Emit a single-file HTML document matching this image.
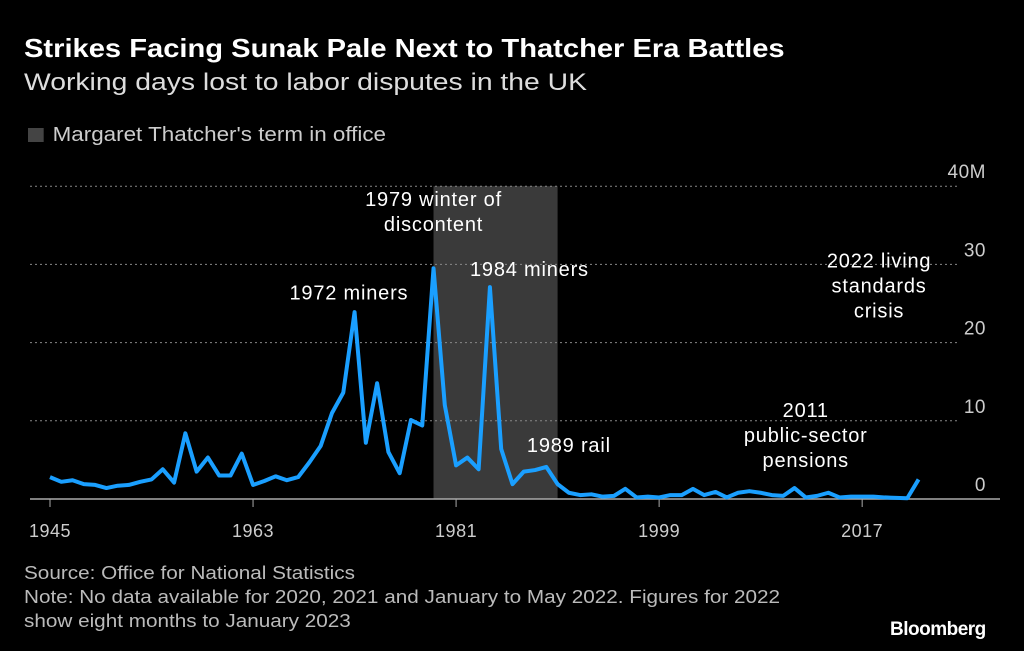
<!DOCTYPE html>
<html><head><meta charset="utf-8"><style>
body{margin:0;background:#000;width:1024px;height:651px;overflow:hidden;font-family:"Liberation Sans",sans-serif;color:#fff}
.t{position:absolute;white-space:nowrap;transform-origin:0 0}
</style></head><body>
<div class="t" style="left:24px;top:33px;font-size:26px;font-weight:bold;transform:scaleX(1.12)">Strikes Facing Sunak Pale Next to Thatcher Era Battles</div>
<div class="t" style="left:24px;top:69px;font-size:24px;color:#ddd;transform:scaleX(1.18)">Working days lost to labor disputes in the UK</div>
<div class="t" style="left:28px;top:124px;font-size:20px;color:#ccc;transform:scaleX(1.12)"><span style="display:inline-block;width:14px;height:14px;background:#444;margin-right:8px;vertical-align:-1px"></span>Margaret Thatcher's term in office</div>
<svg width="1024" height="651" style="position:absolute;left:0;top:0" id="c"></svg>
<div class="t" style="left:24px;top:561px;font-size:18px;color:#bbb;line-height:24px;transform:scaleX(1.15)">Source: Office for National Statistics<br>Note: No data available for 2020, 2021 and January to May 2022. Figures for 2022<br>show eight months to January 2023</div>
<div class="t" style="left:890px;top:619px;font-size:19px;font-weight:bold;letter-spacing:-0.5px">Bloomberg</div>
<script>
const years=[1945,1946,1947,1948,1949,1950,1951,1952,1953,1954,1955,1956,1957,1958,1959,1960,1961,1962,1963,1964,1965,1966,1967,1968,1969,1970,1971,1972,1973,1974,1975,1976,1977,1978,1979,1980,1981,1982,1983,1984,1985,1986,1987,1988,1989,1990,1991,1992,1993,1994,1995,1996,1997,1998,1999,2000,2001,2002,2003,2004,2005,2006,2007,2008,2009,2010,2011,2012,2013,2014,2015,2016,2017,2018,2019,2021,2022];
const values=[2.8,2.2,2.4,1.9,1.8,1.4,1.7,1.8,2.2,2.5,3.8,2.1,8.4,3.5,5.3,3.0,3.0,5.8,1.8,2.3,2.9,2.4,2.8,4.7,6.8,11.0,13.6,23.9,7.2,14.8,6.0,3.3,10.1,9.4,29.5,12.0,4.3,5.3,3.8,27.1,6.4,1.9,3.5,3.7,4.1,1.9,0.8,0.5,0.6,0.3,0.4,1.3,0.2,0.3,0.2,0.5,0.5,1.3,0.5,0.9,0.2,0.8,1.0,0.8,0.5,0.4,1.4,0.2,0.4,0.8,0.2,0.3,0.3,0.3,0.2,0.1,2.5];
const yTicks=[0,10,20,30,40];
const yTickLabels=["0","10","20","30","40M"];
const xTicks=[1945,1963,1981,1999,2017];
const thatcher=[1979,1990];
const annotations=[{t:["1979 winter of","discontent"],y:1979,v:37.5},{t:["1972 miners"],y:1971.5,v:25.5},{t:["1984 miners"],y:1987.5,v:28.5},{t:["1989 rail"],y:1991,v:6},{t:["2011","public-sector","pensions"],y:2012,v:10.5},{t:["2022 living","standards","crisis"],y:2018.5,v:29.6}];
const X=y=>50+(y-1945)*11.28, Y=v=>499-v*7.82;
const s=document.getElementById('c'),NS='http://www.w3.org/2000/svg';
function mk(tag,a,p){const e=document.createElementNS(NS,tag);for(const k in a)e.setAttribute(k,a[k]);(p||s).appendChild(e);return e;}
const sh=mk('rect',{x:X(thatcher[0]),y:Y(40),width:X(thatcher[1])-X(thatcher[0]),height:Y(0)-Y(40),fill:'#3a3a3a'});


yTicks.forEach((v,i)=>{
 if(v>0){const g=mk('line',{x1:30,x2:958,y1:Y(v),y2:Y(v),stroke:'#888','stroke-dasharray':'2,3','stroke-width':1});
 
 }
 const t=mk('text',{x:986,y:Y(v)-8,'text-anchor':'end',fill:'#ccc','font-size':19,'letter-spacing':0.5});
 
 
 t.textContent=yTickLabels[i];
});
const ax=mk('line',{x1:30,x2:1000,y1:499,y2:499,stroke:'#aaa','stroke-width':1.5});


xTicks.forEach(y=>{
 const l=mk('line',{x1:X(y),x2:X(y),y1:499,y2:507,stroke:'#aaa'});
 
 
 const t=mk('text',{x:X(y),y:537,'text-anchor':'middle',fill:'#ccc','font-size':18,'letter-spacing':0.5});
 
 
 t.textContent=y;
});
const pl=mk('polyline',{points:years.map((y,i)=>X(y)+','+Y(values[i])).join(' '),fill:'none',stroke:'#1a9fff','stroke-width':4,'stroke-linejoin':'round'});


annotations.forEach(a=>{
 a.t.forEach((ln,j)=>{
  const t=mk('text',{x:X(a.y),y:Y(a.v)+j*25,'text-anchor':'middle',fill:'#fff','font-size':20,'letter-spacing':0.8});
  
  
  t.textContent=ln;
 });
});
</script>
</body></html>
